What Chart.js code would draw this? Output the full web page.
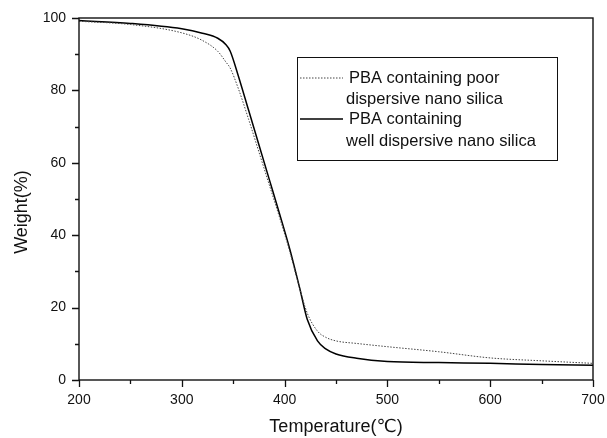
<!DOCTYPE html>
<html>
<head>
<meta charset="utf-8">
<script src="https://cdn.jsdelivr.net/npm/chart.js@4/dist/chart.umd.min.js"></script>
<style>
  html, body { margin: 0; padding: 0; background: #fff; }
  #wrap { width: 607px; height: 438px; }
</style>
</head>
<body>
<div id="wrap"><canvas id="tga"></canvas></div>
<script>
// TGA curves, weight % vs temperature
const temps = [200, 250, 300, 320, 335, 343, 347, 355, 365, 375, 385, 395, 405, 415, 422, 432, 440, 450, 470, 500, 550, 600, 650, 700];
const wellDispersed = [99.3, 98.5, 97.0, 95.8, 94.4, 92.6, 90.9, 84.0, 74.5, 65.0, 55.5, 46.0, 36.2, 25.0, 16.8, 10.8, 8.6, 7.2, 6.0, 5.1, 4.8, 4.6, 4.3, 4.1];
const poorDispersed = [99.1, 98.2, 95.9, 93.8, 90.8, 87.8, 86.2, 80.5, 72.0, 63.0, 54.0, 45.0, 35.5, 25.0, 18.5, 13.5, 11.8, 10.8, 10.1, 9.2, 7.8, 6.1, 5.3, 4.6];

const xTickLabels = [200, 300, 400, 500, 600, 700];
const yTickLabels = [0, 20, 40, 60, 80, 100];

const legendRows = [
  ["PBA containing poor", "dispersive nano silica"],
  ["PBA containing", "well dispersive nano silica"],
];

const FONT = "'Liberation Sans', Arial, 'DejaVu Sans', sans-serif";
const INK = "#111";

// frame, tick marks, y title and the boxed legend
const decor = {
  id: "decor",
  afterDraw(chart) {
    const { ctx, chartArea: a, scales: { x, y } } = chart;
    ctx.save();
    ctx.strokeStyle = INK;
    ctx.lineWidth = 1.4;
    ctx.strokeRect(a.left, a.top, a.right - a.left, a.bottom - a.top);

    ctx.lineWidth = 1.3;
    ctx.beginPath();
    for (let v = 200; v <= 700; v += 50) {
      const px = Math.round(x.getPixelForValue(v)) + 0.5;
      const len = v % 100 === 0 ? 7 : 4;
      ctx.moveTo(px, a.bottom);
      ctx.lineTo(px, a.bottom + len);
    }
    for (let v = 0; v <= 100; v += 10) {
      const py = Math.round(y.getPixelForValue(v)) + 0.5;
      const len = v % 20 === 0 ? 7 : 4;
      ctx.moveTo(a.left, py);
      ctx.lineTo(a.left - len, py);
    }
    ctx.stroke();

    // y title
    ctx.fillStyle = INK;
    ctx.font = "18px " + FONT;
    ctx.textAlign = "center";
    ctx.textBaseline = "middle";
    ctx.translate(22, 212);
    ctx.rotate(-Math.PI / 2);
    ctx.fillText("Weight(%)", 0, 0);
    ctx.restore();

    // legend
    ctx.save();
    const L = 297, T = 57, R = 557, B = 160;
    ctx.strokeStyle = INK;
    ctx.lineWidth = 1;
    ctx.strokeRect(L + 0.5, T + 0.5, R - L, B - T);
    ctx.font = "16.5px " + FONT;
    ctx.fillStyle = INK;
    ctx.textAlign = "left";
    ctx.textBaseline = "middle";
    const rowY = [[78, 99], [119, 141]];
    chart.data.datasets.forEach((ds, i) => {
      ctx.save();
      ctx.strokeStyle = ds.borderColor;
      ctx.lineWidth = ds.borderWidth;
      ctx.setLineDash(ds.borderDash || []);
      ctx.beginPath();
      ctx.moveTo(L + 3, rowY[i][0]);
      ctx.lineTo(L + 46, rowY[i][0]);
      ctx.stroke();
      ctx.restore();
      ctx.fillText(legendRows[i][0], L + 52, rowY[i][0]);
      ctx.fillText(legendRows[i][1], L + 49, rowY[i][1]);
    });
    ctx.restore();
  }
};

new Chart(document.getElementById("tga"), {
  type: "line",
  data: {
    datasets: [
      {
        label: "PBA containing poor dispersive nano silica",
        data: temps.map((t, i) => ({ x: t, y: poorDispersed[i] })),
        borderColor: "#444",
        borderWidth: 1,
        borderDash: [1.5, 1.5],
        pointRadius: 0,
        cubicInterpolationMode: "monotone",
      },
      {
        label: "PBA containing well dispersive nano silica",
        data: temps.map((t, i) => ({ x: t, y: wellDispersed[i] })),
        borderColor: "#000",
        borderWidth: 1.5,
        pointRadius: 0,
        cubicInterpolationMode: "monotone",
      },
    ],
  },
  options: {
    responsive: true,
    maintainAspectRatio: false,
    animation: false,
    layout: { padding: { top: 18, right: 14, left: 0, bottom: 0 } },
    plugins: { legend: { display: false }, tooltip: { enabled: false } },
    scales: {
      x: {
        type: "linear",
        min: 200,
        max: 700,
        afterFit: s => { s.height = 58; s.paddingRight = 0; s.paddingLeft = 0; },
        afterBuildTicks: s => { s.ticks = xTickLabels.map(v => ({ value: v })); },
        grid: { display: false },
        border: { display: false },
        ticks: { color: INK, font: { family: FONT, size: 14 }, padding: 4, maxRotation: 0 },
        title: { display: true, text: "Temperature(℃)", color: INK, font: { family: FONT, size: 18 }, padding: { top: 0, bottom: 0 } },
      },
      y: {
        min: 0,
        max: 100,
        afterFit: s => { s.width = 79; },
        afterBuildTicks: s => { s.ticks = yTickLabels.map(v => ({ value: v })); },
        grid: { display: false },
        border: { display: false },
        ticks: { color: INK, font: { family: FONT, size: 14 }, padding: 5 },
      },
    },
  },
  plugins: [decor],
});
</script>
</body>
</html>
